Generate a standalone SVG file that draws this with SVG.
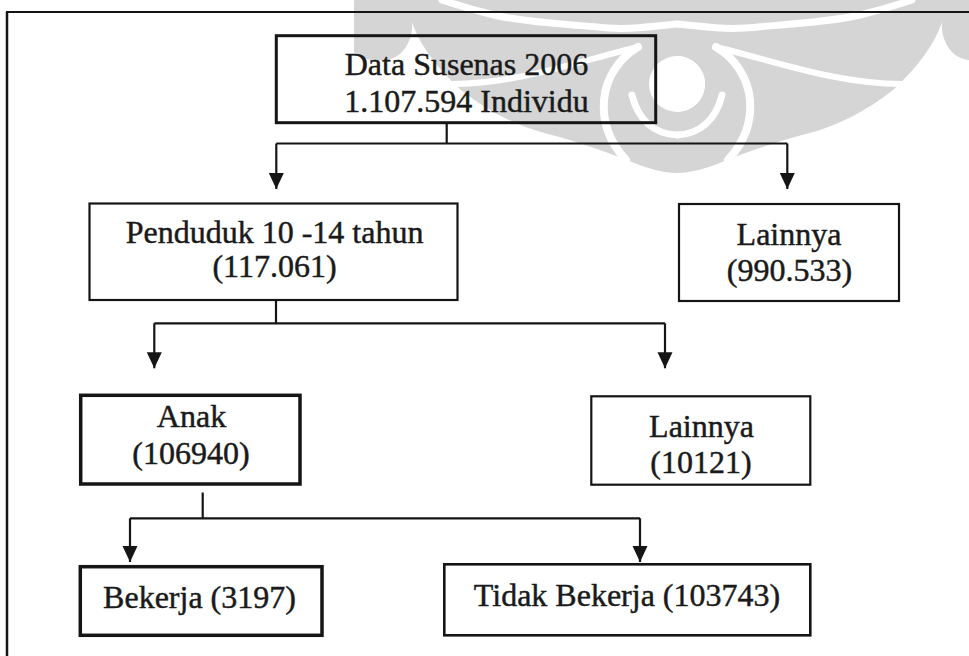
<svg xmlns="http://www.w3.org/2000/svg" xmlns:xlink="http://www.w3.org/1999/xlink" width="969" height="656" viewBox="0 0 969 656">
  <style>
    .box { fill: none; stroke: #151515; }
    .lbl { font-family: "Liberation Serif", "Times New Roman", serif; font-size: 32px; fill: #1a1a1a; stroke: #1a1a1a; stroke-width: 0.45; text-anchor: middle; }
    .conn { fill: none; stroke: #151515; stroke-width: 2.2; }
    .wm { fill: #d5d5d5; }
    .wmw { fill: none; stroke: #ffffff; stroke-linecap: round; }
  </style>
  <defs>
    <marker id="arrow" viewBox="0 0 16 16" refX="16" refY="8" markerWidth="16" markerHeight="16" markerUnits="userSpaceOnUse" orient="auto">
      <path d="M0,0.5 L16,8 L0,15.5 Z" fill="#151515"/>
    </marker>
    <g id="wm-half">
      <path class="wm" d="M677,0 L1000,0 L1000,52 C990,62 966,64 954,54 C945,46 941,34 942,22 C934,46 915,70 893,90 C868,110 838,126 806,134 C775,142 748,152 722,162 C705,169 690,173 677,173 Z"/>
      <path class="wmw" stroke-width="7" d="M677,24 C700,26 720,30 745,28 C790,24 830,22 860,15 C885,9 900,4 912,0"/>
      <path class="wmw" stroke-width="7" d="M722,95 C716,120 700,134 677,135"/>
      <path class="wmw" stroke-width="8" d="M716,47 C735,58 748,78 750,100 C752,125 742,145 728,160"/>
      <path class="wmw" stroke-width="6" d="M716,47 C750,55 790,68 830,76 C860,82 885,84 902,84"/>
      <circle cx="677" cy="84" r="28" fill="#ffffff"/>
    </g>
  </defs>

  <rect x="0" y="0" width="969" height="656" fill="#ffffff"/>

  <g id="watermark">
    <use xlink:href="#wm-half" href="#wm-half"/>
    <use xlink:href="#wm-half" href="#wm-half" transform="translate(1354,0) scale(-1,1)"/>
  </g>

  <g id="frame">
    <line x1="7" y1="12" x2="7" y2="656" stroke="#151515" stroke-width="2.5"/>
    <line x1="6" y1="12" x2="969" y2="12" stroke="#151515" stroke-width="2.2"/>
  </g>

  <g id="connectors">
    <path class="conn" d="M446.7,123 L446.7,143.5"/>
    <path class="conn" d="M276.3,143.5 L787.3,143.5"/>
    <path class="conn" d="M276.3,143.5 L276.3,189" marker-end="url(#arrow)"/>
    <path class="conn" d="M787.3,143.5 L787.3,189" marker-end="url(#arrow)"/>

    <path class="conn" d="M276,300 L276,323.3"/>
    <path class="conn" d="M154.3,323.3 L665,323.3"/>
    <path class="conn" d="M154.3,323.3 L154.3,368.3" marker-end="url(#arrow)"/>
    <path class="conn" d="M665,323.3 L665,368.3" marker-end="url(#arrow)"/>

    <path class="conn" d="M202.7,492.5 L202.7,518.3"/>
    <path class="conn" d="M130,518.3 L640,518.3"/>
    <path class="conn" d="M130,518.3 L130,562" marker-end="url(#arrow)"/>
    <path class="conn" d="M640,518.3 L640,562" marker-end="url(#arrow)"/>
  </g>

  <g id="node-susenas">
    <rect class="box" x="276.3" y="35.7" width="379.4" height="87" stroke-width="3"/>
    <text class="lbl" x="466.5" y="75">Data Susenas 2006</text>
    <text class="lbl" x="466.5" y="112">1.107.594 Individu</text>
  </g>

  <g id="node-penduduk">
    <rect class="box" x="89.5" y="203.5" width="368" height="96.5" stroke-width="2.2"/>
    <text class="lbl" x="274.5" y="243">Penduduk 10 -14 tahun</text>
    <text class="lbl" x="274.5" y="277">(117.061)</text>
  </g>

  <g id="node-lainnya1">
    <rect class="box" x="679" y="204" width="220" height="97" stroke-width="2.2"/>
    <text class="lbl" x="789" y="245">Lainnya</text>
    <text class="lbl" x="789.5" y="281">(990.533)</text>
  </g>

  <g id="node-anak">
    <rect class="box" x="80.7" y="395.3" width="219.3" height="88.7" stroke-width="3.5"/>
    <text class="lbl" x="191.5" y="427">Anak</text>
    <text class="lbl" x="191" y="464">(106940)</text>
  </g>

  <g id="node-lainnya2">
    <rect class="box" x="591.3" y="396.3" width="219" height="88.4" stroke-width="2.2"/>
    <text class="lbl" x="701.5" y="437">Lainnya</text>
    <text class="lbl" x="701" y="473">(10121)</text>
  </g>

  <g id="node-bekerja">
    <rect class="box" x="80.3" y="566.7" width="241.7" height="68.6" stroke-width="3.5"/>
    <text class="lbl" x="199.5" y="608">Bekerja (3197)</text>
  </g>

  <g id="node-tidak-bekerja">
    <rect class="box" x="444.3" y="564.3" width="366" height="71" stroke-width="2.6"/>
    <text class="lbl" x="627" y="606">Tidak Bekerja (103743)</text>
  </g>
</svg>
